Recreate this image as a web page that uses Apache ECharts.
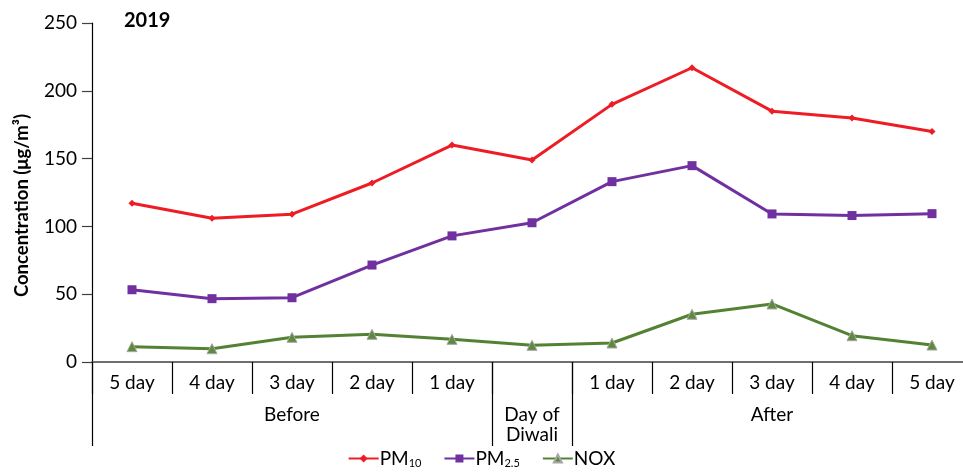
<!DOCTYPE html>
<html>
<head>
<meta charset="utf-8">
<script src="https://cdn.jsdelivr.net/npm/echarts@6/dist/echarts.min.js"></script>
<style>html,body{margin:0;padding:0;background:#fff;}#c{width:963px;height:475px;}</style>
</head>
<body>
<div id="c"></div>
<script>
const dayLabels = ['5 day','4 day','3 day','2 day','1 day','','1 day','2 day','3 day','4 day','5 day'];
const groupNames = ['Before','Day of\nDiwali','After'];
const groupSizes = [5,1,5];
const yTicks = [0,50,100,150,200,250];
const pm10 = [117,106,109,132,160,149,190,217,185,180,170];
const pm25 = [53.3,46.7,47.4,71.5,93,102.7,133,144.8,109.2,108,109.4];
const nox = [11.3,9.8,18.2,20.4,16.7,12.3,14,35.2,42.8,19.4,12.5];

// build group label row and divider positions from the group arrays
const groupLabels = [];
const groupStarts = [];
let idx = 0;
groupNames.forEach((g, i) => {
  groupStarts.push(idx);
  for (let k = 0; k < groupSizes[i]; k++) {
    groupLabels.push(k === Math.floor((groupSizes[i]-1)/2) ? g : '');
  }
  idx += groupSizes[i];
});

const FONT = 'Lato';
const AX = '#404040';
const FS = 19;
const chart = echarts.init(document.getElementById('c'));
chart.setOption({
  animation: false,
  textStyle: { fontFamily: FONT },
  title: { text: '2019', left: 119, top: 6, textStyle: { fontFamily: FONT, fontWeight: 'bold', fontSize: 20, color: '#000' } },
  grid: { left: 92, right: -9, top: 23, bottom: 113, outerBoundsMode: 'none' },
  legend: {
    bottom: 1, left: 'center', itemWidth: 30, itemHeight: 10, itemGap: 22,
    data: ['PM10','PM2.5','NOX'],
    formatter: n => n === 'PM10' ? 'PM{sub|10}' : n === 'PM2.5' ? 'PM{sub|2.5}' : n,
    textStyle: { fontFamily: FONT, fontSize: FS, color: '#000', padding: [0,0,0,-4],
      rich: { sub: { fontFamily: FONT, fontSize: 11, color: '#000', verticalAlign: 'bottom', padding: [10,0,0,0] } } }
  },
  xAxis: [
    {
      type: 'category', position: 'bottom', data: dayLabels, boundaryGap: true,
      axisLine: { show: true, lineStyle: { color: AX, width: 1.5 } },
      axisTick: { show: true, interval: 0, length: 32, lineStyle: { color: '#000', width: 1.2 } },
      axisLabel: { show: true, interval: 0, margin: 11, fontSize: FS, color: '#000', fontFamily: FONT, verticalAlign: 'top' }
    },
    {
      type: 'category', position: 'bottom', data: groupLabels, boundaryGap: true,
      axisLine: { show: false },
      axisTick: { show: true, interval: (i) => groupStarts.includes(i), length: 84, lineStyle: { color: '#000', width: 1.2 } },
      axisLabel: { show: true, interval: 0, margin: 43, fontSize: FS, lineHeight: 20, color: '#000', fontFamily: FONT, verticalAlign: 'top' }
    }
  ],
  yAxis: {
    type: 'value', min: yTicks[0], max: yTicks[yTicks.length-1], interval: yTicks[1]-yTicks[0],
    name: 'Concentration (μg/m³)', nameLocation: 'middle', nameGap: 60,
    nameTextStyle: { fontFamily: FONT, fontWeight: 'bold', fontSize: 18.5, color: '#000', padding: [0,26,0,0] },
    axisLine: { show: true, lineStyle: { color: '#000', width: 1.2 } },
    axisTick: { show: true, length: 10, lineStyle: { color: AX, width: 1.2 } },
    axisLabel: { show: true, margin: 15, fontSize: FS, color: '#000', fontFamily: FONT },
    splitLine: { show: false }
  },
  series: [
    { name: 'PM10', type: 'line', data: pm10, xAxisIndex: 0,
      symbol: 'diamond', symbolSize: 7, lineStyle: { color: '#ee1c24', width: 3 },
      itemStyle: { color: '#ee1c24' } },
    { name: 'PM2.5', type: 'line', data: pm25, xAxisIndex: 0,
      symbol: 'rect', symbolSize: 9, lineStyle: { color: '#7030a0', width: 3 },
      itemStyle: { color: '#7030a0' } },
    { name: 'NOX', type: 'line', data: nox, xAxisIndex: 0,
      symbol: 'triangle', symbolSize: 10, lineStyle: { color: '#548235', width: 3 },
      itemStyle: { color: '#5e8a3e', borderColor: '#a6a6a6', borderWidth: 1 } }
  ]
});
</script>
</body>
</html>
